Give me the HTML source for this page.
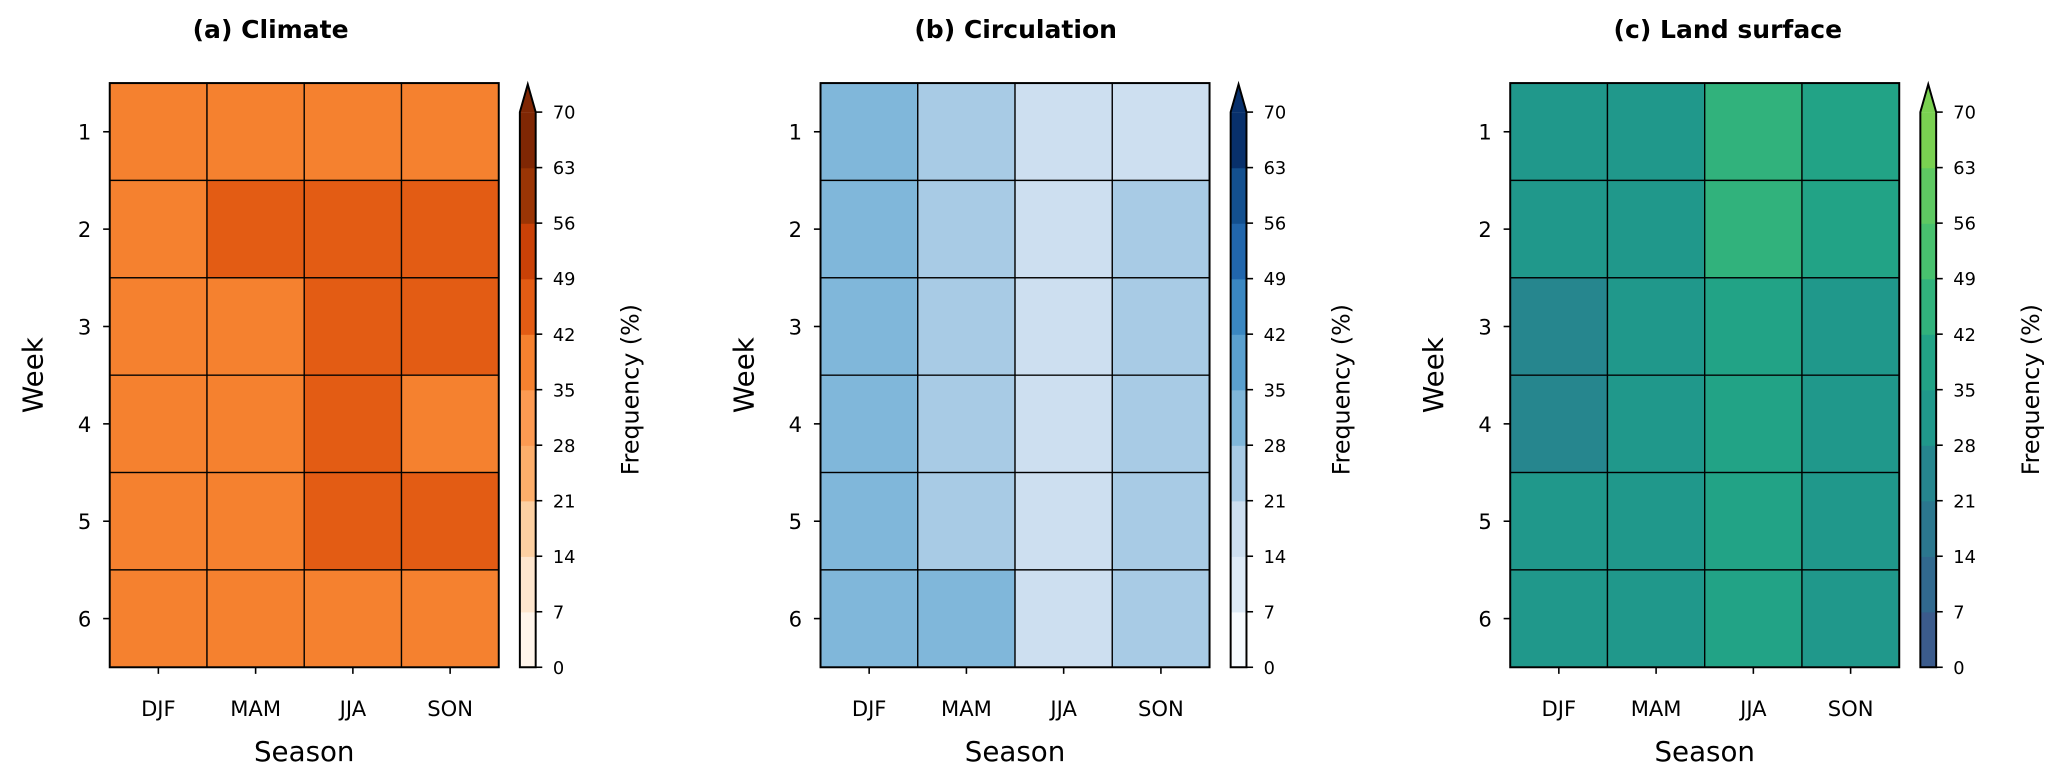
<!DOCTYPE html>
<html><head><meta charset="utf-8"><style>
html,body{margin:0;padding:0;background:#fff;}
svg{display:block;font-family:"DejaVu Sans","Liberation Sans",sans-serif;}
</style></head><body>
<svg id="fig" width="2067" height="782" viewBox="0 0 1567 593" xmlns="http://www.w3.org/2000/svg"></svg>
<script>
const seasons = ["DJF","MAM","JJA","SON"];
const weeks = ["1","2","3","4","5","6"];
const levels = [0,7,14,21,28,35,42,49,56,63,70];
const climateValues = [
  [38,38,38,38],
  [38,45,45,45],
  [38,38,45,45],
  [38,38,45,38],
  [38,38,45,45],
  [38,38,38,38]];
const circulationValues = [
  [31,24,17,17],
  [31,24,17,24],
  [31,24,17,24],
  [31,24,17,24],
  [31,24,17,24],
  [31,31,17,24]];
const landValues = [
  [31,31,45,38],
  [31,31,45,38],
  [24,31,38,31],
  [24,31,38,31],
  [31,31,38,31],
  [31,31,38,31]];
const orangeCols = ["#fff5eb","#fee6ce","#fdd0a2","#fdae6b","#fd9a52","#f5812f","#e35c14","#c94107","#9a3505","#7f2704"];
const blueCols = ["#f7fbff","#deebf7","#cddff0","#a8cbe5","#80b7da","#5aa0cf","#3a87c1","#2166ac","#13508f","#08306b"];
const greenCols = ["#3b5b8c","#31698e","#2b778e","#26868e","#20988b","#22a386","#31b27c","#48c16e","#5ec962","#7ad151"];

const NS="http://www.w3.org/2000/svg";
const svg=document.getElementById('fig');
function mk(tag,attrs,parent){const e=document.createElementNS(NS,tag);for(const k in attrs)e.setAttribute(k,attrs[k]);(parent||svg).appendChild(e);return e;}
function colorFor(v,cols){let i=0;for(let k=0;k<levels.length-1;k++){if(v>=levels[k])i=k;}if(v>=levels[levels.length-1])i=cols.length-1;return cols[i];}

function panel(cfg){
  const g=mk('g',{});
  
  
  const L=cfg.x0,R=cfg.x0+295,T=63,B=506;
  const cw=(R-L)/seasons.length, rh=(B-T)/weeks.length;
  const xScale=i=>L+i*cw, yScale=j=>T+j*rh;
  cfg.values.forEach((row,j)=>row.forEach((v,i)=>{
    const r=mk('rect',{x:xScale(i),y:yScale(j),width:cw,height:rh,fill:colorFor(v,cfg.cols),stroke:'#000','stroke-width':1},g);
    
    
  }));
  mk('rect',{x:L,y:T,width:R-L,height:B-T,fill:'none',stroke:'#000','stroke-width':1.5},g);
  seasons.forEach((s,i)=>{
    const cx=xScale(i)+cw/2;
    mk('line',{x1:cx,y1:B,x2:cx,y2:B+5,stroke:'#000','stroke-width':1.2},g);
    const t=mk('text',{x:cx,y:543,'text-anchor':'middle','font-size':16},g);t.textContent=s;
    
    
  });
  weeks.forEach((w,j)=>{
    const cy=yScale(j)+rh/2;
    mk('line',{x1:L-5,y1:cy,x2:L,y2:cy,stroke:'#000','stroke-width':1.2},g);
    const t=mk('text',{x:L-14,y:cy+6,'text-anchor':'end','font-size':16},g);t.textContent=w;
    
    
  });
  const xt=mk('text',{x:(L+R)/2,y:577,'text-anchor':'middle','font-size':21},g);xt.textContent='Season';
  
  
  const yt=mk('text',{x:0,y:0,'text-anchor':'middle','font-size':21,transform:`translate(${L-51},${(T+B)/2}) rotate(-90)`},g);yt.textContent='Week';
  
  
  const tt=mk('text',{x:cfg.tx,y:29,'text-anchor':'middle','font-size':19,'font-weight':'bold'},g);tt.textContent=cfg.title;
  
  
  const cl=R+16, cr=cl+12, cb=506, ct=85, n=levels.length-1, bh=(cb-ct)/n;
  const cbScale=v=>cb-(v-levels[0])/(levels[n]-levels[0])*(cb-ct);
  for(let k=0;k<n;k++){
    const r=mk('rect',{x:cl,y:cbScale(levels[k+1]),width:cr-cl,height:bh+0.5,fill:cfg.cols[k]},g);
    
    
  }
  mk('polygon',{points:`${cl},${ct} ${(cl+cr)/2},${ct-21} ${cr},${ct}`,fill:cfg.cols[n-1]},g);
  mk('polygon',{points:`${cl},${cb} ${cl},${ct} ${(cl+cr)/2},${ct-21} ${cr},${ct} ${cr},${cb}`,fill:'none',stroke:'#000','stroke-width':1.5},g);
  levels.forEach(v=>{
    const y=cbScale(v);
    mk('line',{x1:cr,y1:y,x2:cr+5,y2:y,stroke:'#000','stroke-width':1.2},g);
    const t=mk('text',{x:cr+13,y:y+5,'font-size':13.5},g);t.textContent=v;
    
    
  });
  const ft=mk('text',{x:0,y:0,'text-anchor':'middle','font-size':18,transform:`translate(${cr+78},${(ct+cb)/2}) rotate(-90)`},g);ft.textContent='Frequency (%)';
  
  
}
panel({name:'panel-climate',x0:83,values:climateValues,cols:orangeCols,title:'(a) Climate',tx:205});
panel({name:'panel-circulation',x0:622,values:circulationValues,cols:blueCols,title:'(b) Circulation',tx:770});
panel({name:'panel-land-surface',x0:1145,values:landValues,cols:greenCols,title:'(c) Land surface',tx:1310});
</script>
</body></html>
